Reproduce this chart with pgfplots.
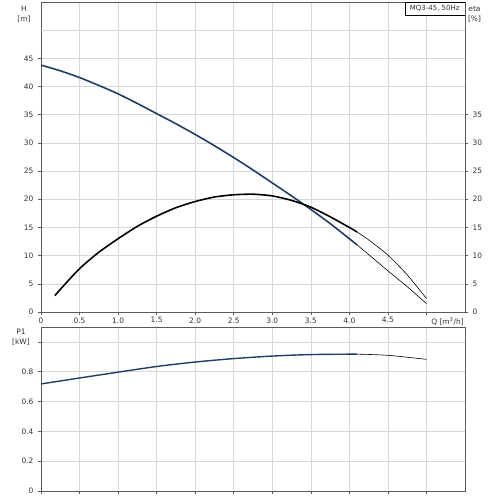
\documentclass[border=0pt]{standalone}
\usepackage{pgfplots}
\pgfplotsset{compat=1.18}
\usepackage{fontspec}
\setmainfont{DejaVu Sans}
\definecolor{hblue}{RGB}{32,60,104}
\definecolor{gridc}{RGB}{215,215,215}
\definecolor{axc}{RGB}{90,90,90}
\definecolor{txt}{RGB}{50,50,50}
\definecolor{thin}{RGB}{165,165,165}
\begin{document}
\begin{tikzpicture}[x=1bp,y=1bp,font=\fontsize{7.5}{9}\selectfont\color{txt}]
\pgfplotsset{
  pumpstyle/.style={
    scale only axis,
    width=424bp,
    xmin=0, xmax=5.5,
    axis line style={axc, line width=0.8pt},
    grid=major,
    major grid style={gridc, line width=0.6pt},
    tick style={axc, line width=0.6pt},
    major tick length=3bp,
    tick align=outside,
    xtick={0,0.5,...,5.0},
    /pgf/number format/assume math mode=true,
    tick label style={font=\fontsize{7.5}{9}\selectfont\color{txt}},
    clip=false,
  }
}
% upper panel: H and eta
\begin{axis}[pumpstyle,
    at={(41bp,188bp)}, anchor=south west,
    height=310bp,
    ymin=0, ymax=55,
    ytick={0,5,...,45},
    extra y ticks={50},
    extra y tick labels={},
    extra y tick style={major tick length=0pt},
    xticklabels={0,0.5,1.0,1.5,2.0,2.5,3.0,3.5,4.0,4.5,},
    xtick pos=bottom, ytick pos=left,
    xticklabel style={yshift=1bp},
    yticklabel style={xshift=-1bp},
  ]
  % H curve (operating range)
  \addplot[hblue, line width=1.6pt, smooth, tension=0.4] coordinates {
    (0,43.8) (0.25,42.8) (0.5,41.6) (0.75,40.2) (1.0,38.7) (1.25,37.0)
    (1.5,35.2) (1.75,33.4) (2.0,31.5) (2.25,29.5) (2.5,27.4) (2.75,25.2)
    (3.0,22.9) (3.25,20.6) (3.5,18.2) (3.75,15.7) (4.0,13.0) (4.1,11.9)
  };
  % H curve (extension)
  \addplot[thin, line width=0.6pt, smooth, tension=0.4] coordinates {
    (4.1,11.9) (4.25,10.2) (4.5,7.3) (4.75,4.5) (5.0,1.5)
  };
  % eta curve (operating range)
  \addplot[black, line width=1.6pt, smooth, tension=0.4] coordinates {
    (0.18,2.9) (0.25,4.0) (0.5,7.7) (0.75,10.6) (1.0,13.0) (1.25,15.2)
    (1.5,17.0) (1.75,18.5) (2.0,19.6) (2.25,20.4) (2.5,20.8) (2.75,20.9)
    (3.0,20.6) (3.25,19.8) (3.5,18.6) (3.75,16.9) (4.0,15.0) (4.1,14.2)
  };
  % eta curve (extension)
  \addplot[thin, line width=0.6pt, smooth, tension=0.4] coordinates {
    (4.1,14.2) (4.25,12.8) (4.5,10.1) (4.75,6.6) (5.0,2.4)
  };
  \node[anchor=north west, inner sep=0pt] at (axis cs:5.06,0) [yshift=-5bp] {Q [m\textsuperscript{3}/h]};
  \node[align=center, inner sep=0pt, font=\fontsize{7.5}{10}\selectfont\color{txt}] at (axis cs:0,0) [xshift=-17bp, yshift=298bp] {H\\{[m]}};
  \node[draw=black, line width=0.5pt, fill=white, anchor=north east, inner sep=2pt, minimum height=13bp, minimum width=60bp, font=\fontsize{7}{8}\selectfont\color{txt}] at (axis cs:5.5,55) {MQ3-45, 50Hz};
\end{axis}
% right eta axis
\begin{axis}[
    scale only axis, width=424bp, height=310bp,
    at={(41bp,188bp)}, anchor=south west,
    xmin=0, xmax=5.5, ymin=0, ymax=55,
    axis x line=none, axis y line*=right,
    axis line style={axc, line width=0.8pt},
    ytick={0,5,...,35},
    tick style={axc, line width=0.6pt},
    major tick length=3bp, tick align=outside,
    /pgf/number format/assume math mode=true,
    tick label style={font=\fontsize{7.5}{9}\selectfont\color{txt}},
    yticklabel style={xshift=1bp},
    clip=false,
  ]
  \node[align=center, inner sep=0pt, font=\fontsize{7.5}{10}\selectfont\color{txt}] at (axis cs:5.5,0) [xshift=9.5bp, yshift=298bp] {eta\\{[\%]}};
\end{axis}
% lower panel: P1
\begin{axis}[pumpstyle,
    at={(41bp,9bp)}, anchor=south west,
    height=164bp,
    ymin=0, ymax=1.1,
    ytick={0,0.2,...,1.0},
    yticklabels={0,0.2,0.4,0.6,0.8,},
    xticklabels={},
    xtick pos=bottom, ytick pos=left,
    yticklabel style={xshift=-1bp},
  ]
  \addplot[hblue, line width=1.4pt, smooth] coordinates {
    (0,0.718) (0.5,0.758) (1.0,0.797) (1.5,0.835) (2.0,0.865) (2.5,0.888)
    (3.0,0.905) (3.5,0.915) (4.1,0.918)
  };
  \addplot[thin, line width=0.6pt, smooth] coordinates {
    (4.1,0.918) (4.5,0.91) (5.0,0.883)
  };
  \node[align=center, inner sep=0pt, font=\fontsize{7.5}{10}\selectfont\color{txt}] at (axis cs:0,1.1) [xshift=-20bp, yshift=-10bp] {P1\\{[kW]}};
\end{axis}
\pgfresetboundingbox
\path[use as bounding box] (0,0) rectangle (500bp,500bp);
\end{tikzpicture}
\end{document}
